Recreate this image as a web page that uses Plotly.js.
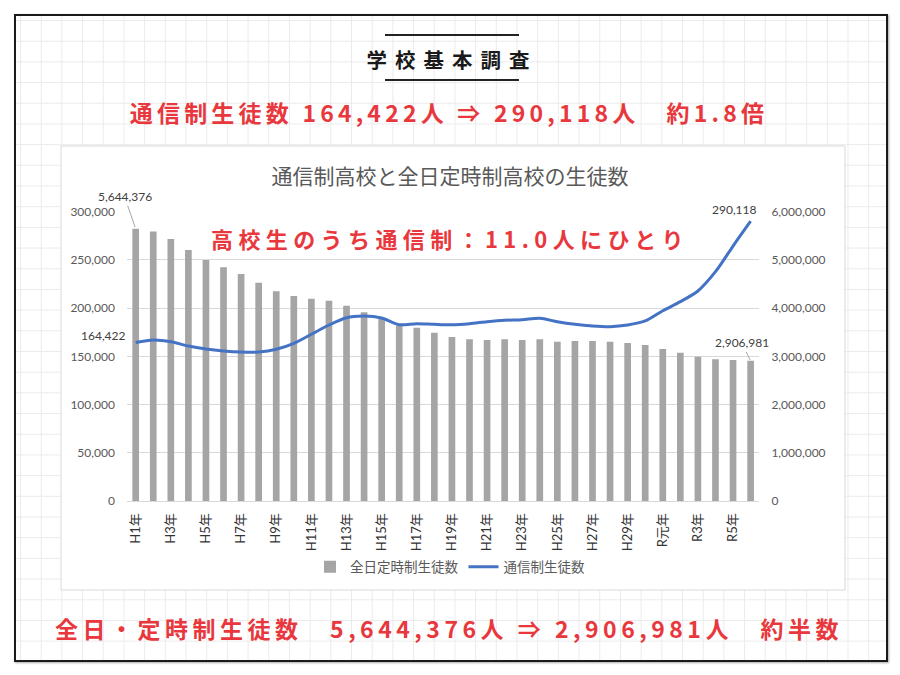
<!DOCTYPE html>
<html>
<head>
<meta charset="utf-8">
<script src="https://cdn.plot.ly/plotly-3.0.1.min.js"></script>
<style>
  html, body { margin: 0; padding: 0; background: #ffffff; }
  #wrap { position: relative; width: 900px; height: 675px; overflow: hidden; background: #ffffff; }
  #frame {
    position: absolute; left: 14px; top: 14px; width: 870px; height: 644px;
    border: 2px solid #1a1a1a; box-shadow: 1px 1px 2px rgba(0,0,0,0.35);
    background-color: #ffffff;
    background-image: linear-gradient(to right, #ebebeb 1px, transparent 1px),
                      linear-gradient(to bottom, #ebebeb 1px, transparent 1px);
    background-size: 20.7px 20.7px; background-position: 4px 4px;
  }
  #chart { position: absolute; left: 0; top: 0; width: 900px; height: 675px; }
  .txt { position: absolute; left: 0; width: 900px; text-align: center; white-space: pre;
         font-family: "Noto Sans CJK JP", "Noto Sans", sans-serif; font-weight: 700; line-height: 1; pointer-events: none; }
  .rule { position: absolute; left: 385px; width: 134px; height: 2px; background: #222; }
</style>
</head>
<body>
<div id="wrap">
  <div id="frame"></div>
  <div id="chart"></div>
  <div class="rule" style="top:34px;"></div>
  <div class="rule" style="top:79px;"></div>
  <div class="txt" style="top:49px; left:2px; font-size:20.5px; letter-spacing:8px; color:#1a1a1a;">学校基本調査</div>
  <div class="txt" style="top:101px; left:-1px; font-size:23px; letter-spacing:4.2px; color:#e8383d;">通信制生徒数 164,422人 ⇒ 290,118人　約1.8倍</div>
  <div class="txt" style="top:227px; left:0px; font-size:22px; letter-spacing:5.4px; color:#e8383d;">高校生のうち通信制：11.0人にひとり</div>
  <div class="txt" style="top:617px; left:-1px; font-size:23px; letter-spacing:4.5px; color:#e8383d;">全日・定時制生徒数　5,644,376人 ⇒ 2,906,981人　約半数</div>
</div>
<script>
// Categories (school year)
const years = ['H1年','H2年','H3年','H4年','H5年','H6年','H7年','H8年','H9年','H10年',
  'H11年','H12年','H13年','H14年','H15年','H16年','H17年','H18年','H19年','H20年',
  'H21年','H22年','H23年','H24年','H25年','H26年','H27年','H28年','H29年','H30年',
  'R元年','R2年','R3年','R4年','R5年','R6年'];

// 全日定時制生徒数 (right axis)
const fullTimeStudents = [5644376, 5590000, 5433000, 5205000, 4998000, 4847000, 4708000, 4527000, 4349000, 4251000,
  4195000, 4154000, 4050000, 3913000, 3789000, 3640000, 3594000, 3490000, 3401000, 3353000,
  3339000, 3353000, 3339000, 3353000, 3304000, 3318000, 3320000, 3305000, 3275000, 3235000,
  3152000, 3076000, 2993000, 2939000, 2924000, 2906981];

// 通信制生徒数 (left axis)
const correspondenceStudents = [164422, 167000, 165200, 160700, 157600, 155600, 154500, 154500, 157300, 163500,
  172900, 182500, 190100, 191800, 189800, 182800, 183900, 183200, 182800, 183900,
  185900, 187400, 188000, 189500, 185900, 183200, 181500, 180800, 182500, 186700,
  197300, 206700, 217800, 237800, 264400, 290118];

const seriesNames = ['全日定時制生徒数', '通信制生徒数'];
const chartTitle = '通信制高校と全日定時制高校の生徒数';

const tickLabels = years.filter((y, i) => i % 2 === 0);

const W = 900, H = 675;
const px = v => v / W;
const py = v => 1 - v / H;
const fmt = v => v.toLocaleString('en-US');
const numFont = 'Lato, "Noto Sans CJK JP", sans-serif';
const last = years.length - 1;

const traces = [
  {
    type: 'bar', name: seriesNames[0], x: years, y: fullTimeStudents, yaxis: 'y',
    marker: { color: '#a5a5a5' }, hoverinfo: 'x+y'
  },
  {
    type: 'scatter', mode: 'lines', name: seriesNames[1], x: years, y: correspondenceStudents, yaxis: 'y2',
    line: { color: '#4472c4', width: 3, shape: 'spline', smoothing: 0.8 }, hoverinfo: 'x+y'
  }
];

const layout = {
  width: W, height: H, autosize: false,
  margin: { l: 0, r: 0, t: 0, b: 0, pad: 0 },
  paper_bgcolor: 'rgba(0,0,0,0)', plot_bgcolor: 'rgba(0,0,0,0)',
  bargap: 0.62,
  showlegend: true,
  title: {
    text: chartTitle, x: 0.5, xref: 'paper', xanchor: 'center',
    y: py(177), yref: 'paper', yanchor: 'middle',
    font: { family: '"Noto Sans CJK JP", sans-serif', size: 21, color: '#595959' }
  },
  xaxis: {
    type: 'category', domain: [px(126.9), px(759.4)], range: [-0.5, years.length - 0.5],
    tickmode: 'array', tickvals: tickLabels, ticktext: tickLabels, tickangle: -90,
    tickfont: { family: numFont, size: 13, color: '#333333' },
    ticks: '', showgrid: false, showline: true, linecolor: '#d9d9d9', linewidth: 1,
    ticklabelstandoff: 6, automargin: false, fixedrange: true
  },
  yaxis: {
    domain: [py(501), py(211.7)], range: [0, 6000000], dtick: 1000000, tickformat: ',d',
    side: 'right', showgrid: true, gridcolor: '#d9d9d9', gridwidth: 1, zeroline: false,
    showline: false, ticks: '', tickfont: { family: numFont, size: 12, color: '#595959' },
    ticklabelstandoff: 11, automargin: false, fixedrange: true
  },
  yaxis2: {
    overlaying: 'y', side: 'left', range: [0, 300000], dtick: 50000, tickformat: ',d',
    showgrid: false, zeroline: false, showline: false, ticks: '',
    tickfont: { family: numFont, size: 12, color: '#595959' },
    ticklabelstandoff: 11, automargin: false, fixedrange: true
  },
  legend: {
    orientation: 'h', x: 0.5, xanchor: 'center', y: py(567), yanchor: 'middle',
    font: { family: '"Noto Sans CJK JP", sans-serif', size: 13.5, color: '#595959' },
    itemwidth: 30, bgcolor: 'rgba(0,0,0,0)', traceorder: 'normal'
  },
  shapes: [
    { type: 'rect', xref: 'paper', yref: 'paper', x0: px(61), x1: px(845), y0: py(590), y1: py(146),
      fillcolor: '#ffffff', line: { color: '#d9d9d9', width: 1 }, layer: 'below' }
  ],
  annotations: [
    { x: years[0], y: fullTimeStudents[0], xref: 'x', yref: 'y', text: fmt(fullTimeStudents[0]),
      showarrow: true, arrowhead: 0, arrowwidth: 1, arrowcolor: '#a6a6a6', ax: -11, ay: -32, standoff: 2,
      font: { family: numFont, size: 12, color: '#404040' } },
    { x: years[0], y: correspondenceStudents[0], xref: 'x', yref: 'y2', text: fmt(correspondenceStudents[0]),
      showarrow: false, xanchor: 'right', xshift: -8, yshift: 7,
      font: { family: numFont, size: 12, color: '#404040' } },
    { x: years[last], y: correspondenceStudents[last], xref: 'x', yref: 'y2', text: fmt(correspondenceStudents[last]),
      showarrow: false, xshift: -16, yshift: 12,
      font: { family: numFont, size: 12, color: '#404040' } },
    { x: years[last], y: fullTimeStudents[last], xref: 'x', yref: 'y', text: fmt(fullTimeStudents[last]),
      showarrow: true, arrowhead: 0, arrowwidth: 1, arrowcolor: '#a6a6a6', ax: -9, ay: -18, standoff: 1,
      font: { family: numFont, size: 12, color: '#404040' } }
  ]
};

Plotly.newPlot('chart', traces, layout, { displayModeBar: false, staticPlot: true });
</script>
</body>
</html>
